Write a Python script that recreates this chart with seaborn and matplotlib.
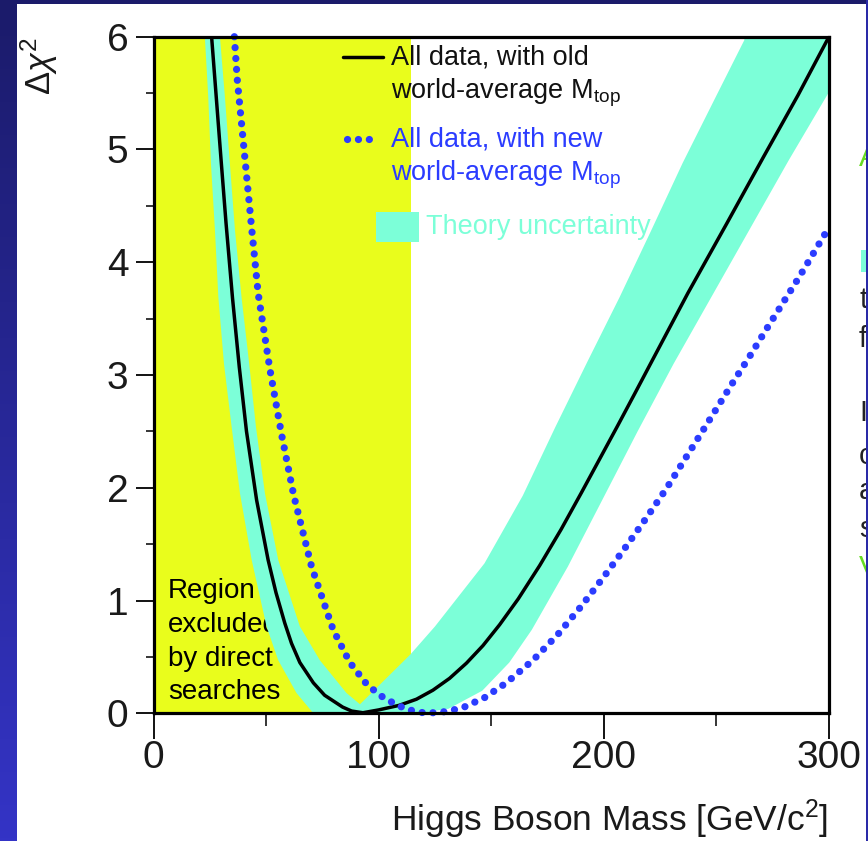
import numpy as np
import pandas as pd
import matplotlib
matplotlib.use("Agg")
import matplotlib.pyplot as plt
from matplotlib.patches import Rectangle
from matplotlib.colors import LinearSegmentedColormap
from matplotlib.ticker import MultipleLocator
import seaborn as sns

# Delta chi^2 of the electroweak fit vs Higgs mass, old world-average M_top
old_mtop_mass = [25.8, 28.0, 30.0, 32.2, 35.1, 38.1, 41.3, 45.8, 50.9, 54.4, 58.3, 61.3,
                 65.0, 71.0, 76.0, 84.0, 88.0, 93.0, 100.0, 109.0, 116.8, 124.1,
                 131.5, 139.0, 146.3, 153.7, 162.0, 171.5, 181.0, 190.0, 198.0, 206.0,
                 213.6, 221.0, 237.3, 254.5, 270.8, 286.2, 300.0]
old_mtop_dchi2 = [6.0, 5.43, 4.91, 4.35, 3.68, 3.07, 2.50, 1.89, 1.36, 1.07, 0.80, 0.62,
                  0.45, 0.27, 0.16, 0.055, 0.02, 0.005, 0.03, 0.07, 0.125, 0.205,
                  0.31, 0.445, 0.60, 0.785, 1.015, 1.31, 1.63, 1.955, 2.25, 2.545,
                  2.83, 3.11, 3.725, 4.34, 4.93, 5.48, 6.0]

# same fit with the new world-average M_top
new_mtop_mass = [35.9, 37.2, 40.6, 43.6, 46.5, 51.7, 56.9, 62.3, 70.2, 79.8, 87.2, 95.0,
                 102.7, 112.3, 121.0, 130.0, 137.4, 147.1, 156.7, 168.5, 179.6, 190.0,
                 199.6, 209.2, 218.8, 227.7, 242.5, 257.2, 264.6, 272.0, 286.8, 300.0]
new_mtop_dchi2 = [6.0, 5.62, 4.92, 4.30, 3.72, 3.05, 2.47, 1.93, 1.30, 0.74, 0.45, 0.25,
                  0.13, 0.035, 0.0, 0.015, 0.05, 0.14, 0.27, 0.47, 0.70, 0.95,
                  1.20, 1.46, 1.73, 1.99, 2.46, 2.93, 3.16, 3.40, 3.87, 4.31]

# theory-uncertainty band: lower and upper envelope of the old-M_top curve
band_lower_mass = [22.8, 24.3, 25.5, 27.3, 28.8, 31.3, 34.7, 38.4, 43.6, 50.2, 55.4, 63.5,
                   71.0, 118.0, 131.0, 146.0, 158.0, 168.0, 184.0, 199.0, 215.0, 231.0,
                   248.0, 265.0, 282.0, 300.0, 300.0]
band_lower_dchi2 = [6.0, 5.47, 4.88, 4.28, 3.69, 3.10, 2.54, 1.95, 1.36, 0.77, 0.47, 0.18,
                    0.0, 0.0, 0.04, 0.20, 0.45, 0.74, 1.30, 1.88, 2.50, 3.10,
                    3.70, 4.30, 4.90, 5.51, 6.0]
band_upper_mass = [29.5, 31.7, 33.9, 36.2, 39.1, 42.5, 45.5, 49.5, 55.4, 65.0, 73.9, 85.7,
                   91.7, 114.0, 125.0, 147.0, 164.0, 178.5, 193.0, 207.0, 221.0, 235.0,
                   249.8, 262.4, 262.4]
band_upper_dchi2 = [6.0, 5.47, 4.88, 4.28, 3.69, 3.10, 2.54, 1.95, 1.36, 0.77, 0.47, 0.18,
                    0.08, 0.52, 0.77, 1.33, 1.93, 2.54, 3.13, 3.69, 4.28, 4.88,
                    5.47, 5.97, 6.0]

# lower mass limit from direct searches
excluded_limit = 114.4

x_ticks = [0, 100, 200, 300]
y_ticks = [0, 1, 2, 3, 4, 5, 6]

legend_old = ["All data, with old", r"world-average M$_{\mathrm{top}}$"]
legend_new = ["All data, with new", r"world-average M$_{\mathrm{top}}$"]
legend_band = "Theory uncertainty"
region_lines = ["Region", "excluded", "by direct", "searches"]

# side notes running off the right edge of the slide
side_letters = ["A", "t", "f", "I", "c", "a", "s", "V"]
side_rows = [158, 300, 339, 413, 456, 491, 529, 568]
side_colors = ["#66dd22", "#222222", "#222222", "#222222", "#222222", "#222222",
               "#222222", "#66dd22"]

YELLOW = "#e9fd1c"
CYAN = "#7cffd8"
BLUE = "#2b3cff"

sns.set_theme(style="ticks")
plt.rcParams["font.family"] = ["Liberation Sans", "DejaVu Sans"]
plt.rcParams["mathtext.fontset"] = "custom"
plt.rcParams["mathtext.rm"] = "Liberation Sans"
plt.rcParams["mathtext.it"] = "Liberation Sans:italic"
plt.rcParams["mathtext.sf"] = "Liberation Sans"

W, H = 868, 841
fig = plt.figure(figsize=(W / 100, H / 100), dpi=100)


def fx(px):
    return px / W


def fy(py):
    return 1 - py / H


# slide background with white content panel
bg = fig.add_axes([0, 0, 1, 1], zorder=-10)
grad = np.linspace(0, 1, 256).reshape(-1, 1)
cmap = LinearSegmentedColormap.from_list("slide", ["#1b1b6a", "#3434c6"])
bg.imshow(grad, aspect="auto", cmap=cmap, extent=[0, 1, 0, 1], origin="upper")
bg.add_patch(Rectangle((fx(17), 0), fx(866) - fx(17), fy(4), color="white",
                       transform=bg.transAxes, lw=0))
bg.set_axis_off()

# main plot
x0, x1 = 153.5, 829.0
y0, y1 = 713.3, 36.7
ax = fig.add_axes([fx(x0), fy(y0), fx(x1) - fx(x0), fy(y1) - fy(y0)])
ax.set_facecolor("white")

ax.axvspan(0, excluded_limit, color=YELLOW, lw=0, zorder=0)

# region annotation (drawn under the band)
for line, base in zip(region_lines, [598.5, 632.0, 665.5, 699.0]):
    ax.text(fx(168), fy(base), line, transform=fig.transFigure, fontsize=20,
            color="black", ha="left", va="baseline", zorder=1)

# theory band as a closed polygon
poly_x = list(band_lower_mass) + list(band_upper_mass)[::-1]
poly_y = list(band_lower_dchi2) + list(band_upper_dchi2)[::-1]
ax.fill(poly_x, poly_y, color=CYAN, lw=0, zorder=2)

old_df = pd.DataFrame({"mass": old_mtop_mass, "dchi2": old_mtop_dchi2})
new_df = pd.DataFrame({"mass": new_mtop_mass, "dchi2": new_mtop_dchi2})

sns.lineplot(data=old_df, x="mass", y="dchi2", ax=ax, color="black", lw=2.5,
             estimator=None, sort=False, zorder=4)
sns.lineplot(data=new_df, x="mass", y="dchi2", ax=ax, color=BLUE, lw=5.2,
             estimator=None, sort=False, zorder=5)
blue_line = ax.lines[-1]
blue_line.set_linestyle((0, (0.01, 1.5)))
blue_line.set_dash_capstyle("round")
blue_line.set_clip_on(False)

ax.set_xlim(0, 300)
ax.set_ylim(0, 6)
ax.set_xticks(x_ticks)
ax.set_yticks(y_ticks)
ax.xaxis.set_minor_locator(MultipleLocator(50))
ax.yaxis.set_minor_locator(MultipleLocator(0.5))
ax.set_xlabel("")
ax.set_ylabel("")

for sp in ax.spines.values():
    sp.set_visible(True)
    sp.set_linewidth(2.3)
    sp.set_color("black")
    sp.set_zorder(6)

ax.tick_params(axis="x", which="major", length=19, width=1.3, direction="out",
               pad=0, labelsize=28, colors="black", labelcolor="#1a1a1a")
ax.tick_params(axis="x", which="minor", length=9.5, width=1.3, direction="out")
ax.tick_params(axis="y", which="major", length=13, width=1.3, direction="out",
               pad=5, labelsize=28, colors="black", labelcolor="#1a1a1a")
ax.tick_params(axis="y", which="minor", length=6, width=1.3, direction="out")

# axis titles
fig.text(fx(828), fy(819), r"Higgs Boson Mass [GeV/c$^{2}$]", fontsize=25.5,
         ha="right", va="center", color="#1a1a1a")
fig.text(fx(39), fy(66), r"$\Delta\chi^{2}$", fontsize=25, rotation=90,
         ha="center", va="center", color="#1a1a1a")

# legend drawn by hand
ax.plot([fx(343), fx(383)], [fy(57.3), fy(57.3)], transform=fig.transFigure,
        color="black", lw=2.5, clip_on=False, zorder=7)
ax.plot([fx(346.7), fx(371.7)], [fy(139.3), fy(139.3)], transform=fig.transFigure,
        color=BLUE, lw=5.2, linestyle=(0, (0.01, 1.5)), dash_capstyle="round",
        clip_on=False, zorder=7)
ax.add_patch(Rectangle((fx(375.7), fy(242.3)), fx(419.3) - fx(375.7),
                       fy(211.7) - fy(242.3), transform=fig.transFigure,
                       color=CYAN, lw=0, zorder=7, clip_on=False))
for txt, py, col in [(legend_old[0], 58, "#111111"), (legend_old[1], 93, "#111111"),
                     (legend_new[0], 140, BLUE), (legend_new[1], 175, BLUE)]:
    fig.text(fx(391), fy(py), txt, fontsize=19.5, color=col, ha="left", va="center")
fig.text(fx(426), fy(227), legend_band, fontsize=19.5, color=CYAN, ha="left",
         va="center")

# side notes beyond the plot, cut by the slide border
for letter, row, col in zip(side_letters, side_rows, side_colors):
    fig.text(fx(859), fy(row), letter, fontsize=21, color=col, ha="left",
             va="center", zorder=1)
fig.add_artist(Rectangle((fx(861), fy(272)), fx(880) - fx(861), fy(250) - fy(272),
                         transform=fig.transFigure, color=CYAN, lw=0, zorder=1))
fig.add_artist(Rectangle((fx(866), 0), 1 - fx(866), 1, transform=fig.transFigure,
                         color="#2a2aa8", lw=0, zorder=20))

fig.savefig("out.png", dpi=100)
